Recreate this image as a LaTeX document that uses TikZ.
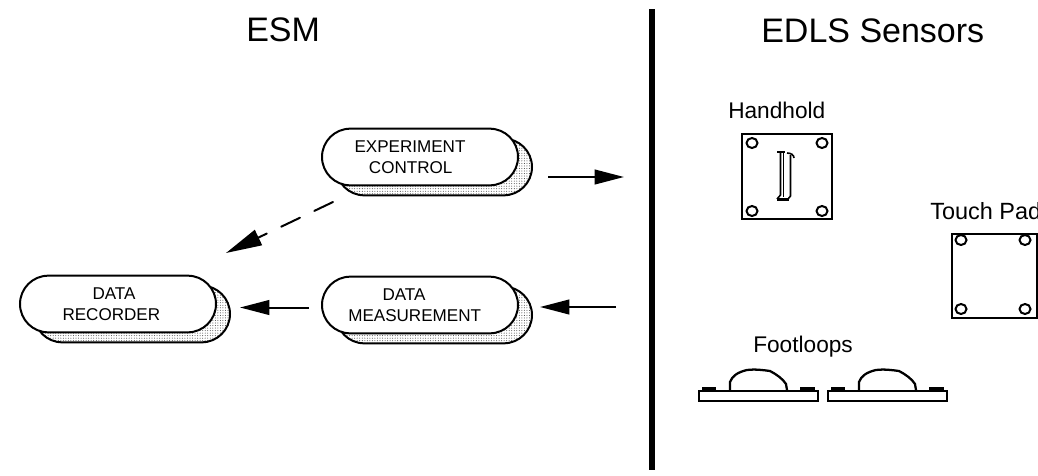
\documentclass[tikz,border=0pt]{standalone}
\usepackage{fontspec}
\setmainfont{Liberation Sans}
\usetikzlibrary{arrows.meta,patterns.meta,shapes.misc,calc}
\tikzset{
	pill/.style={rounded rectangle,draw,line width=1.5pt,fill=white,minimum width=147pt,minimum height=42.5pt,inner sep=0pt,align=center,font=\fontsize{12.8}{16}\selectfont},
	pillback/.style={rounded rectangle,draw,line width=1.5pt,minimum width=147pt,minimum height=42.5pt,inner sep=0pt,pattern={Dots[distance=1.9pt,radius=.38pt]},pattern color=black!75},
	flow/.style={line width=1.5pt,-{Triangle[length=22pt,width=11pt]}},
	title/.style={anchor=base west,inner sep=0pt,font=\fontsize{25.5}{30}\selectfont},
	caption/.style={anchor=base west,inner sep=0pt,font=\fontsize{17}{20}\selectfont},
	plate/.style={line width=1.7pt},
	hole/.style={line width=1.5pt}
}
\begin{document}
\begin{tikzpicture}[x=.75pt,y=-.75pt]
	\useasboundingbox (0,0) rectangle (1038,475);

	\node[title] (esm) at (246,41) {ESM};
	\node[title] (edls) at (761,42) {EDLS Sensors};

	\node[pillback] (expctlb) at (434,167) {};
	\node[pill] (expctl) at (420,157) {EXPERIMENT\hspace*{15pt}\\CONTROL\hspace*{14pt}};
	\node[pillback] (datarecb) at (132,314) {};
	\node[pill] (datarec) at (118,304) {DATA\hspace*{6pt}\\RECORDER\hspace*{10pt}};
	\node[pillback] (datameasb) at (434,315) {};
	\node[pill] (datameas) at (420,305) {DATA\hspace*{24pt}\\MEASUREMENT\hspace*{8pt}};

	\coordinate (sensorin) at (624,177);
	\coordinate (sensorout) at (616,307);
	\draw[flow] ($(expctlb.east)+(15,10)$) -- (sensorin);
	\draw[flow] (sensorout) -- ($(datameasb.east)+(7,-8)$);
	\draw[flow] ($(datameas.west)+(-12,2.5)$) -- ($(datarecb.east)+(9,-6.5)$);
	\draw[flow,line cap=round,dash pattern=on 15.5pt off 12pt,-{Triangle[length=27pt,width=12.5pt]}] ($(expctl.west)+(12,45)$) -- ($(datarec.east)+(9,-51)$);

	\coordinate (bartop) at (652,9);
	\coordinate (barbot) at (652,470);
	\draw[line width=4.5pt] (bartop) -- (barbot);

	\node[caption] (handhold) at (728,118) {Handhold};
	\draw[plate] (742,134) rectangle (832,219);
	\foreach \x in {752,822}{
		\foreach \y in {143,211}{
			\draw[hole] (\x,\y) ellipse (5.5 and 5);
		}
	}
	\draw[line width=1.8pt] (777,152) -- (785,152);
	\draw[line width=1.2pt] (780.5,153) -- (780.5,195) -- (777,199);
	\draw[line width=1.2pt] (783.5,153) -- (783.5,197);
	\draw[line width=1.2pt] (787,153) .. controls (791,153) and (794,155) .. (794,158);
	\draw[line width=1.2pt] (790.5,155) -- (790.5,196) -- (788,199);
	\draw[line width=1.8pt] (777,199.5) -- (789,199.5);

	\node[caption,font=\fontsize{17.6}{20}\selectfont] (touchpad) at (930,219) {Touch Pad};
	\draw[plate] (952,234) rectangle (1037,318);
	\foreach \x in {961,1025}{
		\foreach \y in {240,309}{
			\draw[hole] (\x,\y) ellipse (5.5 and 5);
		}
	}

	\node[caption] (footloops) at (753,352) {Footloops};
	\foreach \x in {0,129}{
		\draw[plate] (699+\x,391) rectangle (818+\x,401);
		\fill (702+\x,387) rectangle (716+\x,391);
		\fill (800+\x,387) rectangle (815+\x,391);
		\draw[line width=1.7pt] (730+\x,390) -- (730+\x,382) .. controls (732+\x,376) and (738+\x,372) .. (747+\x,370) .. controls (755+\x,369) and (763+\x,370) .. (770+\x,371) .. controls (776+\x,374) and (783+\x,379) .. (786+\x,384) -- (787+\x,390);
	}
\end{tikzpicture}
\end{document}
